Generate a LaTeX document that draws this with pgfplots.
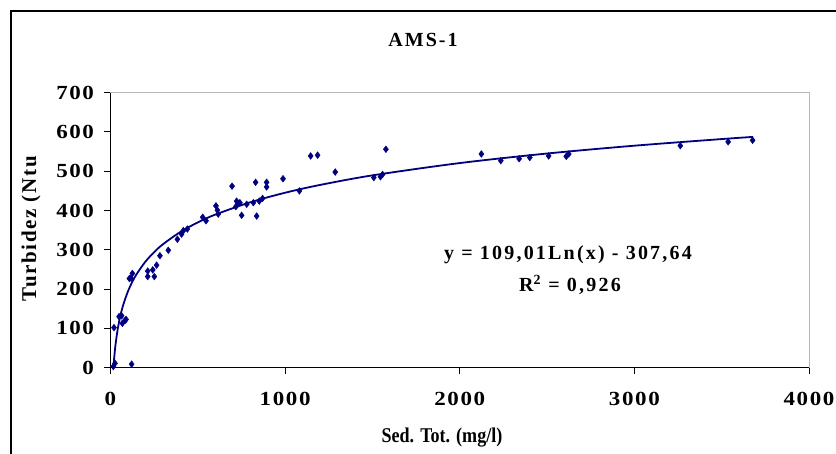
\documentclass[border=0pt]{standalone}
\usepackage{fontspec}
\setmainfont{Liberation Serif}
\newfontfamily\spacedfont{Liberation Serif}[LetterSpace=8]
\newfontfamily\eqfont{Liberation Serif}[LetterSpace=11]
\newfontfamily\tickfont{Liberation Serif}[LetterSpace=8, FakeStretch=1.15]
\newfontfamily\titlefont{Liberation Serif}[LetterSpace=10]
\newfontfamily\xlabfont{Liberation Serif}[FakeStretch=0.86]
\usepackage{pgfplots}
\pgfplotsset{compat=1.18}
\definecolor{navy}{RGB}{0,0,128}
\begin{document}
\begin{tikzpicture}[x=1pt,y=1pt]
\useasboundingbox (0,0) rectangle (836,453);
\draw[line width=1.5pt] (11,-20) -- (11,442) -- (860,442);
\begin{axis}[
  at={(110.5pt,85.3pt)}, anchor=south west,
  scale only axis, width=698.5pt, height=275pt,
  xmin=0, xmax=4000, ymin=0, ymax=700,
  xtick={0,1000,2000,3000,4000},
  ytick={0,100,200,300,400,500,600,700},
  xtick pos=bottom, ytick pos=left,
  tick align=outside, major tick length=6pt,
  every tick/.style={black, line width=1pt},
  axis line style={draw=gray!55, line width=1pt},
  /pgf/number format/assume math mode=true,
  /pgf/number format/set thousands separator={},
  tick label style={font=\tickfont\bfseries\fontsize{20}{24}\selectfont},
  yticklabel style={xshift=-7pt},
  xticklabel style={yshift=-15pt},
  clip=false,
]
\draw[black, line width=1.3pt] (rel axis cs:0,1) -- (rel axis cs:0,0) -- (rel axis cs:1,0);
\addplot[navy, line width=1.8pt, smooth, no markers] coordinates {
(17,1.2) (20,18.9) (25,43.2) (30,63.2) (40,94.5) (50,118.8) (60,138.7) (75,163.0)
(100,194.4) (125,218.7) (150,238.6) (200,269.9) (250,294.2) (300,314.1) (400,345.5)
(500,369.9) (600,389.7) (800,421.0) (1000,445.4) (1200,465.2) (1500,489.6)
(2000,520.9) (2500,545.2) (3000,565.1) (3500,582.0) (3680,587.5)
};
\addplot[only marks, mark=diamond*, mark size=3.4pt, color=navy] coordinates {
(16,3) (26,11) (121,9) (20,102) (49,130) (64,132) (68,113) (83,120) (89,123)
(108,227) (125,240) (118,228) (213,246) (213,232) (242,249) (251,232) (264,261)
(283,285) (331,299) (383,327) (407,340) (417,349) (440,353) (528,383) (547,374)
(604,412) (612,401) (617,391) (696,462) (722,424) (718,410) (732,418) (741,420)
(751,388) (780,416) (818,420) (837,386) (831,472) (852,424) (871,431) (894,472)
(894,460) (988,481) (1082,450) (1146,539) (1186,541) (1287,498) (1508,484)
(1546,486) (1558,492) (1577,556) (2124,544) (2235,527) (2340,532) (2401,535)
(2509,539) (2610,538) (2624,544) (3263,565) (3537,575) (3677,579)
};
\end{axis}
\node[font=\titlefont\bfseries\fontsize{20}{24}\selectfont] at (423,413) {AMS-1};
\node[font=\xlabfont\bfseries\fontsize{21}{24}\selectfont] at (442,15) {Sed. Tot. (mg/l)};
\node[font=\spacedfont\bfseries\fontsize{21}{24}\selectfont, rotate=90] at (31,224) {Turbidez (Ntu};
\node[font=\eqfont\bfseries\fontsize{20}{24}\selectfont] at (568,198) {y = 109,01Ln(x) - 307,64};
\node[font=\eqfont\bfseries\fontsize{20}{24}\selectfont] at (570,168) {R\textsuperscript{2} = 0,926};
\end{tikzpicture}
\end{document}
